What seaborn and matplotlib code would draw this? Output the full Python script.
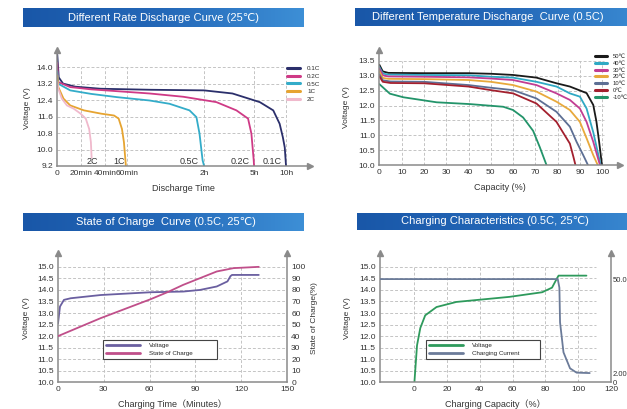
import numpy as np
import pandas as pd
import matplotlib.pyplot as plt
import seaborn as sns
from matplotlib.colors import LinearSegmentedColormap


# ---- Data --------------------------------------------------------####

# different rate discharge (25C): time in hours, voltage in V
rate_names = ['0.1C', '0.2C', '0.5C', '1C', '2C']
rate_colors = ['#2b2f6b', '#cf3a86', '#33acc9', '#e6a431', '#f0b9cc']
h_01c = [0, 0.02, 0.08, 0.25, 0.6, 1.3, 2.0, 3.7, 5.9, 8.0, 9.0, 9.5, 9.8, 10.0]
v_01c = [14.6, 13.5, 13.2, 13.05, 12.95, 12.9, 12.87, 12.72, 12.3, 11.9, 11.25, 10.6, 10.1, 9.2]
h_02c = [0, 0.014, 0.18, 0.47, 1.29, 1.73, 2.74, 3.94, 4.64, 4.84, 4.98, 5.0]
v_02c = [14.2, 13.27, 13.03, 12.92, 12.72, 12.56, 12.3, 11.9, 11.5, 10.77, 9.47, 9.2]
h_05c = [0, 0.014, 0.18, 0.47, 0.85, 1.29, 1.55, 1.81, 1.9, 1.94, 1.98, 2.0]
v_05c = [13.8, 13.19, 12.87, 12.7, 12.54, 12.38, 12.22, 11.9, 11.57, 10.77, 9.48, 9.2]
h_1c = [0, 0.014, 0.086, 0.18, 0.37, 0.61, 0.8, 0.87, 0.92, 0.95, 0.98]
v_1c = [13.6, 13.03, 12.47, 12.14, 11.9, 11.74, 11.65, 11.5, 11.0, 10.36, 9.2]
h_2c = [0, 0.014, 0.063, 0.134, 0.229, 0.324, 0.396, 0.443, 0.467, 0.477]
v_2c = [13.3, 12.95, 12.47, 12.14, 11.98, 11.74, 11.5, 11.0, 10.36, 9.6]
rate_label_h = [7.89, 4.14, 1.81, 0.88, 0.486]
time_ticks_h = [0, 1/3, 2/3, 1, 2, 5, 10]
time_tick_labels = ['0', '20min', '40min', '60min', '2h', '5h', '10h']

# different temperature discharge (0.5C): capacity %, voltage
temp_names = ['50\u2103', '40\u2103', '30\u2103', '20\u2103', '10\u2103', '0\u2103', '-10\u2103']
temp_colors = ['#1a1a1a', '#2fa9c4', '#c23d93', '#e8a93c', '#5d6f94', '#a3202e', '#23946a']
c_50 = [0, 1.5, 4, 20, 40, 50, 60, 70.5, 79.5, 85.5, 93, 96, 97.4, 98.6, 99.9]
v_50 = [13.37, 13.15, 13.1, 13.09, 13.09, 13.07, 13.03, 12.94, 12.75, 12.64, 12.42, 12.02, 11.47, 10.8, 10.0]
c_40 = [0, 1.5, 4, 20, 40, 50, 60, 70.5, 79.5, 85.5, 90, 93, 96, 99.3]
v_40 = [13.3, 13.08, 13.04, 13.03, 13.02, 12.97, 12.94, 12.8, 12.64, 12.41, 12.3, 11.9, 11.1, 10.0]
c_30 = [0, 1.5, 4, 20, 40, 50, 60, 70.5, 79.5, 85.5, 90, 93, 96, 99]
v_30 = [13.25, 13.02, 12.98, 12.97, 12.95, 12.91, 12.86, 12.69, 12.41, 12.19, 11.9, 11.45, 10.78, 10.0]
c_20 = [0, 1.5, 4, 20, 40, 50, 60, 70.5, 79.5, 85.5, 90, 93, 96, 98]
v_20 = [13.15, 12.93, 12.9, 12.89, 12.86, 12.8, 12.69, 12.47, 12.13, 11.85, 11.45, 10.9, 10.33, 10.0]
c_10 = [0, 1.5, 5, 20, 40, 50, 60, 70.5, 79.5, 85.5, 88.5, 91.5, 93.6]
v_10 = [13.05, 12.85, 12.81, 12.8, 12.69, 12.6, 12.52, 12.24, 11.79, 11.29, 10.78, 10.33, 10.0]
c_0 = [0, 1.5, 5, 20, 40, 50, 60, 70.5, 79.5, 85.5, 87, 88]
v_0 = [12.98, 12.8, 12.76, 12.75, 12.64, 12.52, 12.41, 12.07, 11.45, 10.72, 10.3, 10.0]
c_m10 = [0, 4.7, 10.7, 25.7, 40.6, 55.6, 60, 64.5, 69, 72, 75]
v_m10 = [12.72, 12.4, 12.28, 12.11, 12.05, 11.96, 11.85, 11.6, 11.15, 10.6, 10.0]

# state of charge curve: minutes, voltage, soc %
soc_time_v = [0, 1.3, 3.9, 8.3, 28, 60.7, 82, 93, 104, 111, 113, 114, 131.5]
soc_volt = [12.55, 13.28, 13.57, 13.64, 13.78, 13.9, 13.93, 14.0, 14.15, 14.37, 14.6, 14.65, 14.65]
soc_time_s = [0, 28, 60.7, 71.6, 82, 93, 104, 115, 131.5]
soc_pct = [40, 55.6, 72, 78, 84.4, 90.2, 96, 98.9, 100]

# charging characteristics: capacity %, voltage, current
chg_cap_v = [0, 1.6, 3.6, 6.6, 13.5, 25.6, 58, 78, 84, 87, 88, 105]
chg_volt = [10.0, 11.6, 12.35, 12.9, 13.26, 13.48, 13.7, 13.9, 14.1, 14.5, 14.62, 14.62]
chg_cap_i = [-21, 0, 40, 87.5, 88.5, 88.9, 91, 95, 99, 107]
chg_curr = [50, 50, 50, 50, 45.6, 27.9, 12.6, 4.4, 2.2, 2.0]
curr_ticks = [0, 2, 50]
curr_tick_labels = ['0', '2.00', '50.0']


# ---- Settings ----------------------------------------------------####

sns.set_style('white')
plt.rcParams['font.family'] = ['Liberation Sans', 'DejaVu Sans', 'Noto Sans CJK SC']
W, H = 627, 409
fig = plt.figure(figsize=(W / 100, H / 100), dpi=100)

spine_c = '#8a8a8a'
grid_c = '#c4c4c4'
text_c = '#333333'
banner_cmap = LinearSegmentedColormap.from_list('banner', ['#1957a8', '#2468b8', '#3d8fd6'])


def px(l, t, r, b):
    return [l / W, 1 - b / H, (r - l) / W, (b - t) / H]


def banner(l, t, r, b, text, tx, ha='center'):
    bax = fig.add_axes(px(l, t, r, b))
    grad = np.linspace(0, 1, 256).reshape(1, -1)
    bax.imshow(grad, aspect='auto', cmap=banner_cmap, extent=(0, 1, 0, 1))
    bax.set_axis_off()
    fig.text(tx / W, 1 - (t + b) / 2 / H, text, color='white', fontsize=8,
             ha=ha, va='center')


def style_axes(ax):
    for s in ['top', 'right']:
        ax.spines[s].set_visible(False)
    for s in ['left', 'bottom']:
        ax.spines[s].set_color(spine_c)
        ax.spines[s].set_linewidth(1.1)
    ax.tick_params(length=0, labelsize=6, colors=text_c, pad=3)
    ax.plot(0, 1, '^', color=spine_c, ms=4, transform=ax.transAxes, clip_on=False)
    ax.grid(False)


def grid_lines(ax, xs, ys, x0, x1, y0, y1):
    ax.hlines(ys, x0, x1, colors=grid_c, linestyles=(0, (3, 2)), lw=0.7, zorder=0)
    ax.vlines(xs, y0, y1, colors=grid_c, linestyles=(0, (3, 2)), lw=0.7, zorder=0)


def long_df(xs, ys, names, xcol, ycol):
    frames = []
    for x, y, n in zip(xs, ys, names):
        frames.append(pd.DataFrame({xcol: x, ycol: y, 'series': n}))
    return pd.concat(frames).reset_index(drop=True)


# ---- Panel 1: different rate discharge ---------------------------####

banner(22.7, 8.3, 303, 27, 'Different Rate Discharge Curve (25\u2103)', 163)
ax1 = fig.add_axes(px(57.3, 50, 310, 166))
rate_df = long_df([h_01c, h_02c, h_05c, h_1c, h_2c], [v_01c, v_02c, v_05c, v_1c, v_2c],
                  rate_names, 'hours', 'volts')
sns.lineplot(data=rate_df, x='hours', y='volts', hue='series', hue_order=rate_names,
             palette=dict(zip(rate_names, rate_colors)), estimator=None, sort=False,
             lw=1.3, ax=ax1)
scale_h = [0, 1/3, 2/3, 1, 2, 5, 10, 13.75]
scale_pos = [0, 24, 48, 70, 147, 197, 229, 253]
ax1.set_xscale('function', functions=(lambda h: np.interp(h, scale_h, scale_pos),
                                      lambda p: np.interp(p, scale_pos, scale_h)))
ax1.set_xlim(0, 13.75)
ax1.set_ylim(9.2, 14.83)
yt1 = [9.2, 10.0, 10.8, 11.6, 12.4, 13.2, 14.0]
ax1.set_yticks(yt1)
ax1.set_yticklabels(['%.1f' % v for v in yt1])
ax1.set_xticks(time_ticks_h)
ax1.set_xticklabels(time_tick_labels)
ax1.minorticks_off()
style_axes(ax1)
ax1.plot(1, 0, '>', color=spine_c, ms=4, transform=ax1.transAxes, clip_on=False)
grid_lines(ax1, time_ticks_h[1:], yt1[1:], 0, 10, 9.2, 14.0)
for lbl, hx in zip(rate_names, rate_label_h):
    ax1.text(hx, 9.2, lbl, fontsize=6.5, color=text_c, ha='center', va='bottom')
ax1.set_xlabel('Discharge Time', fontsize=6.5, color=text_c, labelpad=5)
ax1.set_ylabel('Voltage (V)', fontsize=6, color=text_c, labelpad=4)
leg = ax1.get_legend()
handles, labels = leg.legend_handles, [t.get_text() for t in leg.get_texts()]
leg1 = ax1.legend(handles, labels, loc='upper left', bbox_to_anchor=(284 / W, 1 - 63 / H),
                  bbox_transform=fig.transFigure, frameon=False, fontsize=4.5,
                  handlelength=2.0, handletextpad=1.2, labelspacing=0.35, borderpad=0)
for h in leg1.legend_handles:
    h.set_linewidth(2.2)

# ---- Panel 2: different temperature discharge --------------------####

banner(355, 8.3, 660, 25.7, 'Different Temperature Discharge  Curve (0.5C)', 372, ha='left')
ax2 = fig.add_axes(px(379.4, 50, 620, 165))
temp_df = long_df([c_50, c_40, c_30, c_20, c_10, c_0, c_m10],
                  [v_50, v_40, v_30, v_20, v_10, v_0, v_m10], temp_names, 'cap', 'volts')
sns.lineplot(data=temp_df, x='cap', y='volts', hue='series', hue_order=temp_names,
             palette=dict(zip(temp_names, temp_colors)), estimator=None, sort=False,
             lw=1.3, ax=ax2)
ax2.set_xlim(0, 108)
ax2.set_ylim(10.0, 13.87)
yt2 = [10.0, 10.5, 11.0, 11.5, 12.0, 12.5, 13.0, 13.5]
xt2 = list(range(0, 101, 10))
ax2.set_yticks(yt2)
ax2.set_yticklabels(['%.1f' % v for v in yt2])
ax2.set_xticks(xt2)
style_axes(ax2)
ax2.plot(1, 0, '>', color=spine_c, ms=4, transform=ax2.transAxes, clip_on=False)
grid_lines(ax2, xt2[1:], yt2[1:], 0, 101, 10.0, 13.5)
ax2.set_xlabel('Capacity (%)', fontsize=6.5, color=text_c, labelpad=5)
ax2.set_ylabel('Voltage (V)', fontsize=6, color=text_c, labelpad=6)
leg = ax2.get_legend()
handles, labels = leg.legend_handles, [t.get_text() for t in leg.get_texts()]
leg2 = ax2.legend(handles, labels, loc='upper left', bbox_to_anchor=(592 / W, 1 - 51 / H),
                  bbox_transform=fig.transFigure, frameon=False, fontsize=4.2,
                  handlelength=2.0, handletextpad=1.0, labelspacing=0.3, borderpad=0)
for h in leg2.legend_handles:
    h.set_linewidth(2.2)

# ---- Panel 3: state of charge ------------------------------------####

banner(22.7, 213.3, 303, 231, 'State of Charge  Curve (0.5C, 25\u2103)', 166)
ax3 = fig.add_axes(px(58, 253, 287, 382.3))
ax3b = ax3.twinx()
sns.lineplot(x=soc_time_v, y=soc_volt, color='#6a5fa0', lw=1.3, ax=ax3, label='Voltage',
             estimator=None, sort=False, legend=False)
sns.lineplot(x=soc_time_s, y=soc_pct, color='#c04f8a', lw=1.3, ax=ax3b, label='State of Charge',
             estimator=None, sort=False, legend=False)
ax3.set_xlim(0, 150)
ax3.set_ylim(10.0, 15.6)
ax3b.set_ylim(0, 112)
yt3 = [10.0, 10.5, 11.0, 11.5, 12.0, 12.5, 13.0, 13.5, 14.0, 14.5, 15.0]
ax3.set_yticks(yt3)
ax3.set_yticklabels(['%.1f' % v for v in yt3])
ax3.set_xticks([0, 30, 60, 90, 120, 150])
ax3b.set_yticks(list(range(0, 101, 10)))
style_axes(ax3)
for s in ['top', 'left', 'bottom']:
    ax3b.spines[s].set_visible(False)
ax3b.spines['right'].set_color(spine_c)
ax3b.spines['right'].set_linewidth(1.1)
ax3b.tick_params(length=0, labelsize=6, colors=text_c, pad=3)
ax3b.plot(1, 1, '^', color=spine_c, ms=4, transform=ax3b.transAxes, clip_on=False)
grid_lines(ax3, [30, 60, 90, 120], yt3[1:], 0, 150, 10.0, 15.0)
ax3.set_xlabel('Charging Time\uff08Minutes\uff09', fontsize=6.5, color=text_c, labelpad=4)
ax3.set_ylabel('Voltage (V)', fontsize=6, color=text_c, labelpad=5)
ax3b.set_ylabel('State of Charge(%)', fontsize=6, color=text_c, labelpad=4)
h3 = ax3.get_lines()[:1] + ax3b.get_lines()[:1]
leg3 = ax3b.legend(h3, ['Voltage', 'State of Charge'], loc='upper left',
                   bbox_to_anchor=(100 / W, 1 - 356 / H, 120 / W, 19 / H), mode='expand',
                   bbox_transform=fig.transFigure, fontsize=4.5, fancybox=False,
                   edgecolor='#444444', handlelength=5.5, handletextpad=1.5,
                   labelspacing=0.45, borderpad=0.4, framealpha=1)
leg3.get_frame().set_linewidth(0.8)
for h in leg3.legend_handles:
    h.set_linewidth(2.0)

# ---- Panel 4: charging characteristics ---------------------------####

banner(356.7, 213, 660, 230, 'Charging Characteristics (0.5C, 25\u2103)', 495)
ax4 = fig.add_axes(px(380, 253, 611, 382.3))
ax4b = ax4.twinx()
sns.lineplot(x=chg_cap_v, y=chg_volt, color='#2e9a5c', lw=1.3, ax=ax4, label='Voltage',
             estimator=None, sort=False, legend=False)
sns.lineplot(x=chg_cap_i, y=chg_curr, color='#6b7b99', lw=1.3, ax=ax4b, label='Charging Current',
             estimator=None, sort=False, legend=False)
curr_map = [0, 2, 50, 60]
volt_map = [10.0, 10.4, 14.47, 15.6]
ax4b.set_yscale('function', functions=(lambda c: np.interp(c, curr_map, volt_map),
                                       lambda v: np.interp(v, volt_map, curr_map)))
ax4.set_xlim(-21, 120)
ax4.set_ylim(10.0, 15.6)
ax4b.set_ylim(0, 60)
ax4.set_yticks(yt3)
ax4.set_yticklabels(['%.1f' % v for v in yt3])
ax4.set_xticks([0, 20, 40, 60, 80, 100, 120])
ax4b.set_yticks(curr_ticks)
ax4b.set_yticklabels(curr_tick_labels)
ax4b.minorticks_off()
style_axes(ax4)
for s in ['top', 'left', 'bottom']:
    ax4b.spines[s].set_visible(False)
ax4b.spines['right'].set_color(spine_c)
ax4b.spines['right'].set_linewidth(1.1)
ax4b.tick_params(length=0, labelsize=5.5, colors=text_c, pad=1)
ax4b.plot(1, 1, '^', color=spine_c, ms=4, transform=ax4b.transAxes, clip_on=False)
grid_lines(ax4, [0, 20, 40, 60, 80, 100], yt3[1:], -21, 111, 10.0, 15.0)
ax4.set_xlabel('Charging Capacity\uff08%\uff09', fontsize=6.5, color=text_c, labelpad=4)
ax4.set_ylabel('Voltage (V)', fontsize=6, color=text_c, labelpad=6)
h4 = ax4.get_lines()[:1] + ax4b.get_lines()[:1]
leg4 = ax4b.legend(h4, ['Voltage', 'Charging Current'], loc='upper left',
                   bbox_to_anchor=(423 / W, 1 - 356 / H, 120 / W, 19 / H), mode='expand',
                   bbox_transform=fig.transFigure, fontsize=4.5, fancybox=False,
                   edgecolor='#444444', handlelength=5.5, handletextpad=1.5,
                   labelspacing=0.45, borderpad=0.4, framealpha=1)
leg4.get_frame().set_linewidth(0.8)
for h in leg4.legend_handles:
    h.set_linewidth(2.0)

fig.savefig('out.png', dpi=100)
